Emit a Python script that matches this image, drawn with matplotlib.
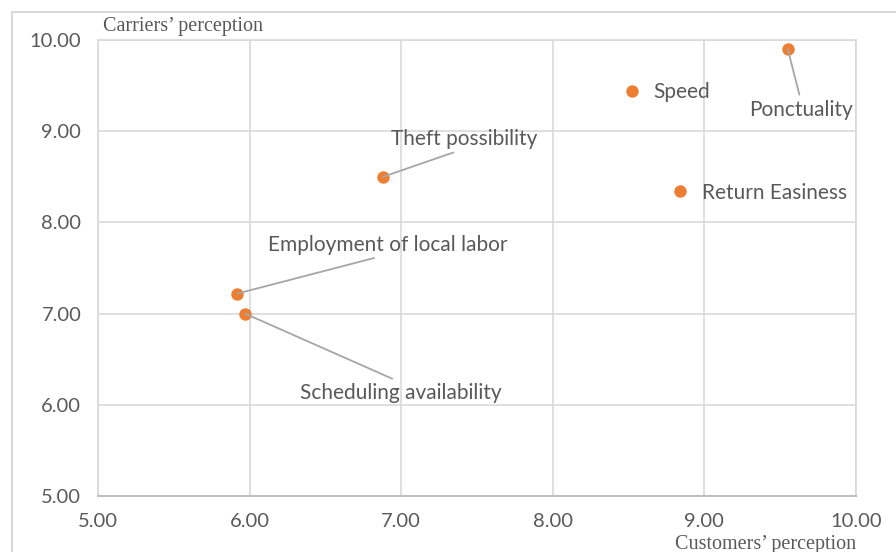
import matplotlib
matplotlib.use("Agg")
import matplotlib.pyplot as plt
from matplotlib.lines import Line2D

# Perception scores per criterion
criteria = ["Ponctuality", "Speed", "Return Easiness", "Theft possibility",
            "Employment of local labor", "Scheduling availability"]
customers = [9.55, 8.52, 8.84, 6.88, 5.92, 5.97]
carriers = [9.90, 9.44, 8.34, 8.50, 7.22, 7.00]

ticks = [5, 6, 7, 8, 9, 10]
tick_labels = ["5.00", "6.00", "7.00", "8.00", "9.00", "10.00"]

# label placement (offset in pixels, alignment, leader line)
label_style = {
    "Ponctuality": ((13, -61), "center", True, (0.5, 1)),
    "Speed": ((22, -1), "left", False, None),
    "Return Easiness": ((22, -2), "left", False, None),
    "Theft possibility": ((81, 38), "center", True, (0.5, 0)),
    "Employment of local labor": ((150, 49), "center", True, (0.5, 0)),
    "Scheduling availability": ((156, -79), "center", True, (0.5, 1)),
}

text_grey = "#595959"
grid_grey = "#D9D9D9"

fig = plt.figure(figsize=(8.96, 5.52), dpi=100)
ax = fig.add_axes([98 / 896, 56 / 552, 758 / 896, 456 / 552])

# outer chart border (left and top edges only are visible)
fig.add_artist(Line2D([12 / 896, 12 / 896], [0, 1 - 12 / 552], transform=fig.transFigure,
                      color=grid_grey, lw=1.5))
fig.add_artist(Line2D([12 / 896, 1], [1 - 12 / 552, 1 - 12 / 552], transform=fig.transFigure,
                      color=grid_grey, lw=1.5))

ax.scatter(customers, carriers, s=80, color="#ED7D31", zorder=3, linewidths=0)

for name, x, y in zip(criteria, customers, carriers):
    offset, ha, leader, rel = label_style[name]
    arrow = None
    if leader:
        arrow = dict(arrowstyle="-", color="#A6A6A6", lw=1.3, shrinkA=2, shrinkB=0, relpos=rel)
    ax.annotate(name, xy=(x, y), xytext=offset, textcoords="offset pixels",
                ha=ha, va="center", fontsize=15, family="Lato", color=text_grey,
                arrowprops=arrow, zorder=4)

ax.set_xlim(5, 10)
ax.set_ylim(5, 10)
ax.set_xticks(ticks)
ax.set_yticks(ticks)
ax.set_xticklabels(tick_labels, family="Lato", fontsize=14.5, color=text_grey)
ax.set_yticklabels(tick_labels, family="Lato", fontsize=14.5, color=text_grey)
ax.tick_params(length=0, pad=12)
ax.grid(True, color=grid_grey, lw=1.2)
ax.set_axisbelow(True)
for side in ["left", "right", "top"]:
    ax.spines[side].set_color(grid_grey)
    ax.spines[side].set_linewidth(1.2)
ax.spines["bottom"].set_color("#BFBFBF")
ax.spines["bottom"].set_linewidth(1.5)

fig.text(103 / 896, 1 - 26 / 552, "Carriers\u2019 perception", family="Liberation Serif",
         fontsize=14.5, color=text_grey, ha="left", va="center")
fig.text(856 / 896, 1 - 544 / 552, "Customers\u2019 perception", family="Liberation Serif",
         fontsize=14.5, color=text_grey, ha="right", va="center")

fig.savefig("out.png", dpi=100)
